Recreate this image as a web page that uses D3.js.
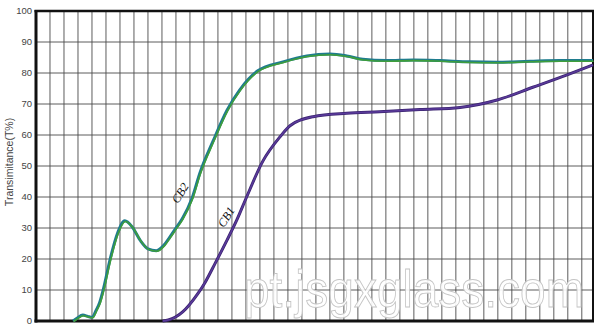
<html>
<head>
<style>
  body{margin:0;background:#fff;}
  svg{display:block;}
</style>
</head>
<body>
<script src="https://d3js.org/d3.v7.min.js"></script>
<script>
var width = 600, height = 327;
// wavelength (nm) and transmittance (%)
let cb2_x = [353,359,367,374,380,386,391,396,406,416,427,437,449,460,472,483,491,500,509,523,534,553,573,591,617,653,687,720,744,767,801,839,877,920,959,1006,1049,1096];
let cb2_y = [0,1.0,1.9,1.5,1.2,3.5,6,10,20,28,32.3,30.5,26,23.3,22.7,24.5,27,30,33,39.6,47.6,58,68,74.5,80.7,83.6,85.5,86.1,85.5,84.4,84,84.2,84,83.6,83.5,83.8,84,84];
let cb1_x = [481,489,510,530,541,556,573,587,601,624,649,663,696,744,791,849,906,959,1010,1059,1096];
let cb1_y = [0,0.3,3,8.4,12.2,18.6,26.1,32.6,40,51.5,59.5,63,65.9,67,67.5,68.2,68.9,71.3,75.4,79.4,82.6];
let yticks = [0,10,20,30,40,50,60,70,80,90,100];
let xgrid = d3.range(320, 1096, 20);

var svg = d3.select("body").append("svg")
  .attr("width", width).attr("height", height);

var xscale = d3.scaleLinear().domain([300,1096]).range([36,593]);
var yscale = d3.scaleLinear().domain([0,100]).range([321,11]);

// grid
svg.append("g").selectAll("line").data(xgrid).enter().append("line")
  .attr("x1", d=>xscale(d)).attr("x2", d=>xscale(d))
  .attr("y1", yscale(0)).attr("y2", yscale(100))
  .attr("stroke","#4a4a4a").attr("stroke-width",0.9);
svg.append("g").selectAll("line").data(yticks.slice(1,-1)).enter().append("line")
  .attr("x1", xscale(300)).attr("x2", xscale(1096))
  .attr("y1", d=>yscale(d)).attr("y2", d=>yscale(d))
  .attr("stroke","#4a4a4a").attr("stroke-width",0.9);

// y axis labels
svg.append("g").selectAll("text").data(yticks).enter().append("text")
  .attr("x", 32).attr("y", d=>yscale(d)+3.3)
  .attr("text-anchor","end")
  .style("font-family","Liberation Sans, Arial").style("font-size","9.5px")
  .attr("fill","#444").text(d=>d);

svg.append("text")
  .attr("transform","translate(12.5,162) rotate(-90)")
  .attr("text-anchor","middle")
  .style("font-family","Liberation Sans, Arial").style("font-size","10.5px")
  .attr("fill","#444").text("Transimitance(T%)");

// frame
svg.append("rect")
  .attr("x", xscale(300)).attr("y", yscale(100))
  .attr("width", xscale(1096)-xscale(300)).attr("height", yscale(0)-yscale(100))
  .attr("fill","none").attr("stroke","#111").attr("stroke-width",2);
svg.append("line").attr("x1",xscale(300)).attr("x2",xscale(300))
  .attr("y1",yscale(100)-1).attr("y2",yscale(0)+1.5)
  .attr("stroke","#111").attr("stroke-width",3);
svg.append("line").attr("x1",xscale(300)-1.5).attr("x2",xscale(1096)+1)
  .attr("y1",yscale(0)).attr("y2",yscale(0))
  .attr("stroke","#111").attr("stroke-width",3);
svg.append("line").attr("x1",xscale(300)-1.5).attr("x2",xscale(1096)+1)
  .attr("y1",yscale(100)).attr("y2",yscale(100))
  .attr("stroke","#111").attr("stroke-width",2.5);

var line = d3.line().x(d=>xscale(d[0])).y(d=>yscale(d[1])).curve(d3.curveMonotoneX);
let cb2 = d3.zip(cb2_x, cb2_y), cb1 = d3.zip(cb1_x, cb1_y);

svg.append("path").attr("d", line(cb2)).attr("fill","none")
  .attr("stroke","#1f7c8e").attr("stroke-width",3);
svg.append("path").attr("d", line(cb2)).attr("fill","none")
  .attr("transform","translate(0.6,0.6)")
  .attr("stroke","#3f9e3a").attr("stroke-width",1.6);

svg.append("path").attr("d", line(cb1)).attr("fill","none")
  .attr("stroke","#3b2470").attr("stroke-width",3);
svg.append("path").attr("d", line(cb1)).attr("fill","none")
  .attr("stroke","#5a3a9a").attr("stroke-width",1.5);

// curve labels
svg.append("text").attr("transform","translate(180,193) rotate(-58)")
  .attr("text-anchor","middle").attr("dy","0.35em")
  .style("font-family","Liberation Serif, Times New Roman").style("font-size","12px")
  .style("font-style","italic").attr("fill","#111").text("CB2");
svg.append("text").attr("transform","translate(226,217) rotate(-58)")
  .attr("text-anchor","middle").attr("dy","0.35em")
  .style("font-family","Liberation Serif, Times New Roman").style("font-size","12px")
  .style("font-style","italic").attr("fill","#111").text("CB1");

// watermark
svg.append("text").attr("transform","translate(244,307) scale(1,1.12)")
  .style("font-family","Liberation Sans, Arial").style("font-size","46px")
  .attr("fill","#fff").attr("fill-opacity",0.9)
  .attr("stroke","#c4c4c4").attr("stroke-width",0.8)
  .text("pt.jsgxglass.com");
</script>
</body>
</html>
